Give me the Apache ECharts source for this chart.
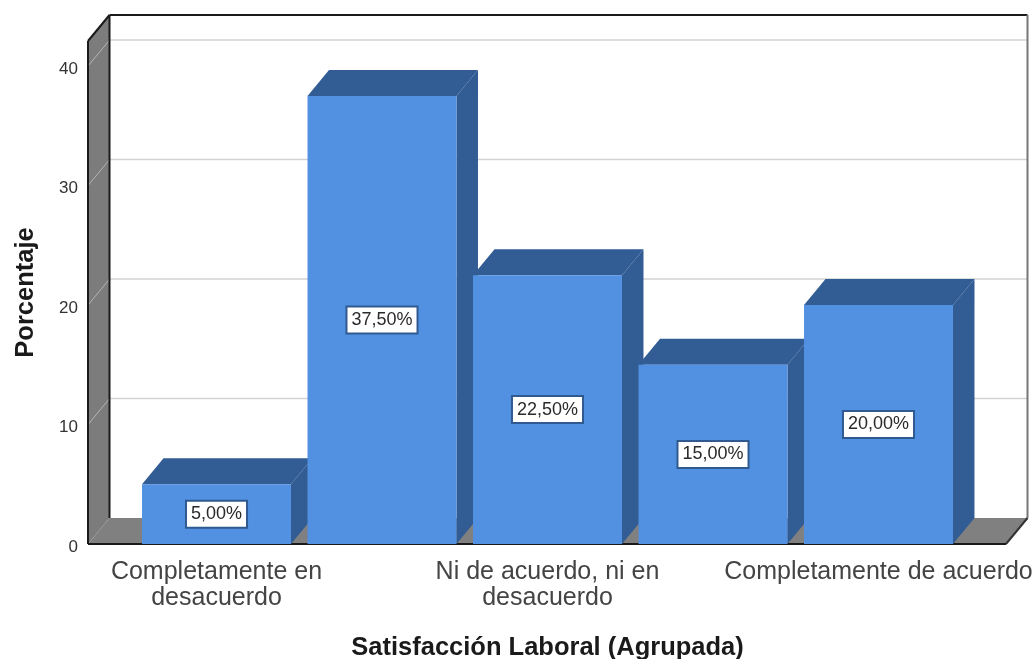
<!DOCTYPE html>
<html>
<head>
<meta charset="utf-8">
<style>html,body{margin:0;padding:0;background:#fff}#chart{width:1036px;height:659px}</style>
<script src="https://cdn.jsdelivr.net/npm/echarts@6/dist/echarts.min.js"></script>
</head>
<body>
<div id="chart"></div>
<script>
// Satisfacción laboral: porcentaje por categoría agrupada
const categories = [
  'Completamente en\ndesacuerdo',
  'En desacuerdo',
  'Ni de acuerdo, ni en\ndesacuerdo',
  'De acuerdo',
  'Completamente de acuerdo'
];
const percentages = [5, 37.5, 22.5, 15, 20];
const gridValues = [10, 20, 30, 40];

// Extruded-box geometry, in pixels
const DEPTH_X = 21.5, DEPTH_Y = 26;
const FLOOR_LEFT = 88, FLOOR_RIGHT = 1006;
const GRID_LEFT = 133.75, GRID_WIDTH = 827.5;
const GRID_TOP = 41, GRID_BOTTOM = 115;
const BAR_RATIO = 0.9;

const FRONT = '#5291e2', SHADE = '#315c94', WALL = '#7c7c7c';

function poly(points, fill, stroke, lineWidth) {
  return {
    type: 'polygon',
    shape: { points },
    style: { fill, stroke: stroke || null, lineWidth: lineWidth || 0 }
  };
}
function line(x1, y1, x2, y2, stroke, lineWidth) {
  return {
    type: 'line',
    shape: { x1, y1, x2, y2 },
    style: { stroke, lineWidth: lineWidth || 1 }
  };
}

// Walls, floor and gridlines behind the bars
function renderFrame(params, api) {
  const y0 = api.coord([0, 0])[1];
  const yTop = GRID_TOP;
  const backL = FLOOR_LEFT + DEPTH_X, backR = FLOOR_RIGHT + DEPTH_X;
  const children = [
    poly([[FLOOR_LEFT, yTop], [backL, yTop - DEPTH_Y], [backL, y0 - DEPTH_Y], [FLOOR_LEFT, y0]], WALL),
    poly([[FLOOR_LEFT, y0], [backL, y0 - DEPTH_Y], [backR, y0 - DEPTH_Y], [FLOOR_RIGHT, y0]], '#808080')
  ];
  gridValues.forEach(function (v) {
    const y = api.coord([0, v])[1];
    children.push(line(backL, y - DEPTH_Y, backR, y - DEPTH_Y, '#d2d2d2', 1.5));
    children.push(line(FLOOR_LEFT, y, backL, y - DEPTH_Y, '#b4b4b4', 1));
  });
  children.push(
    line(FLOOR_LEFT, yTop, FLOOR_LEFT, y0, '#1a1a1a', 2),
    line(FLOOR_LEFT, yTop, backL, yTop - DEPTH_Y, '#1a1a1a', 2),
    line(backL, yTop - DEPTH_Y, backR, yTop - DEPTH_Y, '#1a1a1a', 2),
    line(backL, yTop - DEPTH_Y, backL, y0 - DEPTH_Y, '#1a1a1a', 2),
    line(backR, yTop - DEPTH_Y, backR, y0 - DEPTH_Y, '#777777', 2),
    line(FLOOR_RIGHT, y0, backR, y0 - DEPTH_Y, '#333333', 2),
    line(FLOOR_LEFT, y0, FLOOR_RIGHT, y0, '#1a1a1a', 2)
  );
  return { type: 'group', children };
}

// One extruded bar: side and top faces, front face, value box
function renderBar(params, api) {
  const i = api.value(0), v = api.value(1);
  const base = api.coord([i, 0]);
  const top = api.coord([i, v]);
  const w = api.size([1, 0])[0] * BAR_RATIO;
  const l = base[0] - w / 2, r = base[0] + w / 2;
  const mid = api.coord([i, v / 2]);
  return {
    type: 'group',
    children: [
      poly([[r, base[1]], [r, top[1]], [r + DEPTH_X, top[1] - DEPTH_Y], [r + DEPTH_X, base[1] - DEPTH_Y]], SHADE),
      poly([[l, top[1]], [l + DEPTH_X, top[1] - DEPTH_Y], [r + DEPTH_X, top[1] - DEPTH_Y], [r, top[1]]], SHADE),
      poly([[l, base[1]], [l, top[1]], [r, top[1]], [r, base[1]]], FRONT),
      {
        type: 'text',
        x: mid[0],
        y: mid[1],
        z2: 5,
        style: {
          text: v.toFixed(2).replace('.', ',') + '%',
          x: 0,
          y: 0,
          align: 'center',
          verticalAlign: 'middle',
          fill: '#2a2a2a',
          font: '18px "Liberation Sans", Arial, sans-serif',
          backgroundColor: '#ffffff',
          borderColor: '#2f5a90',
          borderWidth: 2,
          padding: [4, 4, 3, 4]
        }
      }
    ]
  };
}

const chart = echarts.init(document.getElementById('chart'), null, { renderer: 'canvas' });
chart.setOption({
  animation: false,
  backgroundColor: '#ffffff',
  textStyle: { fontFamily: '"Liberation Sans", Arial, sans-serif' },
  grid: { left: GRID_LEFT, width: GRID_WIDTH, top: GRID_TOP, bottom: GRID_BOTTOM, outerBoundsMode: 'none' },
  xAxis: {
    type: 'category',
    data: categories,
    name: 'Satisfacción Laboral (Agrupada)',
    nameLocation: 'middle',
    nameGap: 91,
    nameTextStyle: { color: '#1a1a1a', fontSize: 25.5, fontWeight: 'bold' },
    axisLine: { show: false },
    axisTick: { show: false },
    axisLabel: { interval: 1, color: '#444444', fontSize: 25, lineHeight: 26, margin: 15 }
  },
  yAxis: {
    type: 'value',
    min: 0,
    max: 42.1,
    interval: 10,
    offset: GRID_LEFT - FLOOR_LEFT,
    name: 'Porcentaje',
    nameLocation: 'middle',
    nameRotate: 90,
    nameGap: 49,
    nameTextStyle: { color: '#1a1a1a', fontSize: 25.5, fontWeight: 'bold' },
    axisLine: { show: false },
    axisTick: { show: false },
    splitLine: { show: false },
    axisLabel: {
      showMaxLabel: false,
      color: '#333333',
      fontSize: 17,
      margin: 10,
      verticalAlign: 'top',
      lineHeight: 6
    }
  },
  series: [
    {
      type: 'custom',
      silent: true,
      z: 1,
      renderItem: renderFrame,
      data: [[0, 0]],
      encode: { x: 0, y: 1 }
    },
    {
      type: 'custom',
      silent: true,
      z: 2,
      renderItem: renderBar,
      data: percentages.map(function (v, i) { return [i, v]; }),
      encode: { x: 0, y: 1 }
    }
  ]
});
</script>
</body>
</html>
